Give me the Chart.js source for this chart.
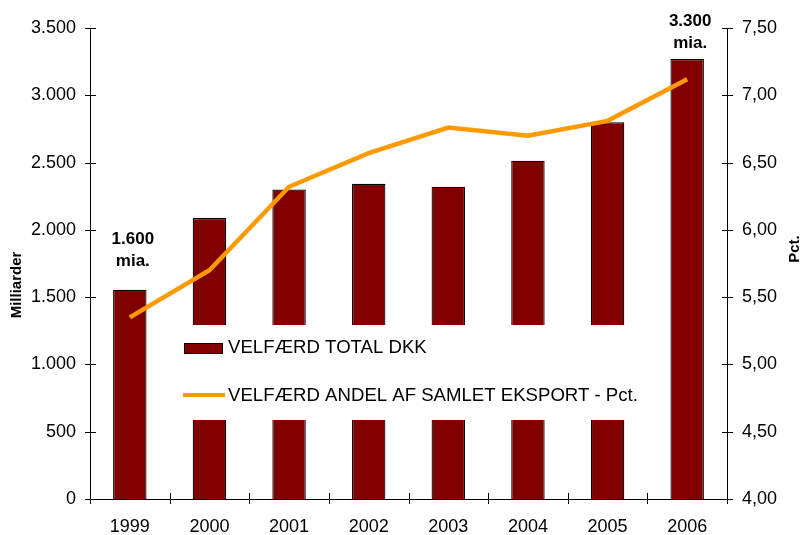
<!DOCTYPE html>
<html>
<head>
<meta charset="utf-8">
<script src="https://cdn.jsdelivr.net/npm/chart.js@4/dist/chart.umd.min.js"></script>
<style>
  html, body { margin: 0; padding: 0; background: #fff; }
  #wrap { width: 804px; height: 535px; }
</style>
</head>
<body>
<div id="wrap"><canvas id="velfaerdChart" width="804" height="535"></canvas></div>
<script>
// Data
const years = ['1999', '2000', '2001', '2002', '2003', '2004', '2005', '2006'];
const velfaerdTotal = [1555, 2088, 2300, 2342, 2320, 2513, 2800, 3269];   // Milliarder
const velfaerdAndel = [5.35, 5.70, 6.32, 6.57, 6.76, 6.70, 6.81, 7.12];   // Pct.
const leftTicks = [0, 500, 1000, 1500, 2000, 2500, 3000, 3500];
const rightTicks = [4.0, 4.5, 5.0, 5.5, 6.0, 6.5, 7.0, 7.5];
const barLabels = { 0: ['1.600', 'mia.'], 7: ['3.300', 'mia.'] };

const FONT = '"Liberation Sans", Arial, sans-serif';

function fmtThousands(v) {
    return String(v).replace(/\B(?=(\d{3})+(?!\d))/g, '.');
}

// tick marks crossing the axis lines + titles + inner legend + bar notes
const extras = {
    id: 'extras',
    afterDatasetsDraw(chart) {
        const c = chart.ctx;
        const area = chart.chartArea;
        const x = chart.scales.x, y = chart.scales.y, y1 = chart.scales.y1;
        const barSet = chart.data.datasets[1], lineSet = chart.data.datasets[0];

        c.save();
        c.strokeStyle = '#000';
        c.lineWidth = 1;
        c.beginPath();
        leftTicks.forEach(v => {
            const py = Math.round(y.getPixelForValue(v)) + 0.5;
            c.moveTo(area.left - 5, py); c.lineTo(area.left + 6, py);
        });
        rightTicks.forEach(v => {
            const py = Math.round(y1.getPixelForValue(v)) + 0.5;
            c.moveTo(area.right - 5, py); c.lineTo(area.right + 6, py);
        });
        for (let i = 0; i <= years.length; i++) {
            const px = Math.round(x.getPixelForValue(i - 0.5)) + 0.5;
            c.moveTo(px, area.bottom - 6); c.lineTo(px, area.bottom + 5);
        }
        c.stroke();

        // legend box
        c.fillStyle = '#fff';
        c.fillRect(178, 325, 472, 95);
        c.fillStyle = barSet.backgroundColor;
        c.fillRect(184.5, 343.5, 38, 10);
        c.strokeStyle = '#000';
        c.strokeRect(184.5, 343.5, 38, 10);
        c.strokeStyle = lineSet.borderColor;
        c.lineWidth = 4;
        c.beginPath();
        c.moveTo(183, 395); c.lineTo(225, 395);
        c.stroke();
        c.fillStyle = '#000';
        c.font = '18.6px ' + FONT;
        c.textBaseline = 'middle';
        c.textAlign = 'left';
        c.fillText(barSet.label, 228, 348);
        c.fillText(lineSet.label, 228, 396);

        // bar notes
        const bars = chart.getDatasetMeta(1).data;
        c.font = 'bold 17px ' + FONT;
        c.textAlign = 'center';
        Object.keys(barLabels).forEach(k => {
            const b = bars[k];
            const gap = k == 0 ? 50 : 38;
            c.fillText(barLabels[k][0], b.x + 3, b.y - gap);
            c.fillText(barLabels[k][1], b.x + 3, b.y - gap + 22);
        });

        // axis titles
        c.font = 'bold 15px ' + FONT;
        c.save();
        c.translate(17, 285);
        c.rotate(-Math.PI / 2);
        c.fillText('Milliarder', 0, 0);
        c.restore();
        c.save();
        c.translate(795, 249);
        c.rotate(-Math.PI / 2);
        c.fillText('Pct.', 0, 0);
        c.restore();
        c.restore();
    }
};

const ctx = document.getElementById('velfaerdChart').getContext('2d');
const velfaerdChart = new Chart(ctx, {
    type: 'bar',
    data: {
        labels: years,
        datasets: [
            {
                type: 'line',
                label: 'VELFÆRD ANDEL AF SAMLET EKSPORT - Pct.',
                data: velfaerdAndel,
                yAxisID: 'y1',
                borderColor: '#FF9900',
                borderWidth: 4.5,
                pointRadius: 0,
                tension: 0,
                order: 0
            },
            {
                type: 'bar',
                label: 'VELFÆRD TOTAL DKK',
                data: velfaerdTotal,
                yAxisID: 'y',
                backgroundColor: '#800000',
                borderColor: '#000',
                borderWidth: 1.2,
                barPercentage: 0.42,
                categoryPercentage: 1,
                order: 1
            }
        ]
    },
    options: {
        responsive: false,
        animation: false,
        layout: { padding: { top: 28, left: 0, right: 0, bottom: 0 } },
        plugins: {
            legend: { display: false },
            tooltip: { enabled: false }
        },
        scales: {
            x: {
                offset: true,
                grid: { display: false },
                border: { display: true, color: '#000', width: 1 },
                ticks: { color: '#000', font: { family: FONT, size: 18 }, padding: 9, maxRotation: 0 },
                afterFit: s => { s.height = 36; }
            },
            y: {
                position: 'left',
                min: 0,
                max: 3500,
                grid: { display: false },
                border: { display: true, color: '#000', width: 1 },
                afterBuildTicks: s => { s.ticks = leftTicks.map(v => ({ value: v })); },
                ticks: {
                    color: '#000',
                    font: { family: FONT, size: 18 },
                    padding: 6,
                    callback: v => fmtThousands(v)
                },
                afterFit: s => { s.width = 90; }
            },
            y1: {
                position: 'right',
                min: 4,
                max: 7.5,
                grid: { display: false },
                border: { display: true, color: '#000', width: 1 },
                afterBuildTicks: s => { s.ticks = rightTicks.map(v => ({ value: v })); },
                ticks: {
                    color: '#000',
                    font: { family: FONT, size: 18 },
                    padding: 7,
                    callback: v => v.toFixed(2).replace('.', ',')
                },
                afterFit: s => { s.width = 77; }
            }
        }
    },
    plugins: [extras]
});
</script>
</body>
</html>
